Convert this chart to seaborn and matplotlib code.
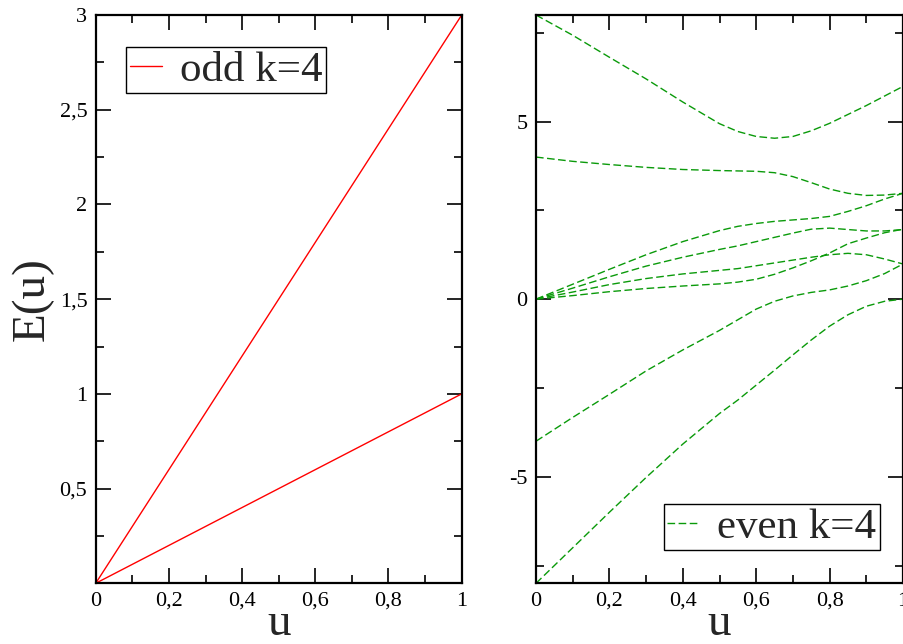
import numpy as np
import pandas as pd
import matplotlib
matplotlib.use("Agg")
import matplotlib.pyplot as plt
from matplotlib.lines import Line2D
from matplotlib.ticker import FixedLocator, FixedFormatter, MultipleLocator
import seaborn as sns

# ---------------- data ----------------
u_odd = [0.0, 1.0]
odd_upper = [0.0, 3.0]
odd_lower = [0.0, 1.0]

u_even = [0.0, 0.1, 0.2, 0.3, 0.4, 0.5, 0.55, 0.6, 0.65, 0.7, 0.75, 0.8, 0.85, 0.9, 0.95, 1.0]
even_A = [8.0, 7.43, 6.81, 6.2, 5.55, 4.94, 4.72, 4.58, 4.53, 4.58, 4.74, 4.95, 5.2, 5.45, 5.72, 5.99]
even_B = [4.0, 3.88, 3.79, 3.71, 3.65, 3.62, 3.61, 3.6, 3.56, 3.45, 3.28, 3.1, 2.98, 2.92, 2.93, 2.98]
even_C = [0.0, 0.42, 0.84, 1.25, 1.62, 1.93, 2.05, 2.13, 2.19, 2.23, 2.27, 2.33, 2.47, 2.63, 2.82, 2.98]
even_D = [0.0, 0.31, 0.63, 0.93, 1.18, 1.40, 1.50, 1.62, 1.74, 1.86, 1.97, 2.0, 1.96, 1.92, 1.92, 1.96]
even_E = [0.0, 0.2, 0.41, 0.58, 0.71, 0.81, 0.86, 0.94, 1.02, 1.10, 1.18, 1.25, 1.29, 1.25, 1.13, 0.99]
even_F = [0.0, 0.1, 0.21, 0.3, 0.37, 0.43, 0.48, 0.56, 0.70, 0.88, 1.08, 1.3, 1.56, 1.72, 1.87, 1.97]
even_G = [-4.0, -3.33, -2.68, -2.02, -1.43, -0.88, -0.58, -0.28, -0.06, 0.09, 0.19, 0.26, 0.37, 0.52, 0.72, 0.99]
even_H = [-8.0, -7.0, -6.0, -5.02, -4.08, -3.22, -2.84, -2.42, -2.0, -1.57, -1.15, -0.76, -0.44, -0.2, -0.06, 0.0]

x_ticks = [0.0, 0.2, 0.4, 0.6, 0.8, 1.0]
x_tick_labels = ["0", "0,2", "0,4", "0,6", "0,8", "1"]
left_y_ticks = [0.5, 1.0, 1.5, 2.0, 2.5, 3.0]
left_y_tick_labels = ["0,5", "1", "1,5", "2", "2,5", "3"]
right_y_ticks = [-5, 0, 5]
right_y_tick_labels = ["-5", "0", "5"]

odd_label = "odd k=4"
even_label = "even k=4"
x_label = "u"
y_label = "E(u)"

# ---------------- frames ----------------
odd_df = pd.concat([
    pd.DataFrame({"u": u_odd, "E": odd_upper, "curve": "upper"}),
    pd.DataFrame({"u": u_odd, "E": odd_lower, "curve": "lower"}),
], ignore_index=True)

even_series = {"A": even_A, "B": even_B, "C": even_C, "D": even_D,
               "E": even_E, "F": even_F, "G": even_G, "H": even_H}
even_df = pd.concat(
    [pd.DataFrame({"u": u_even, "E": v, "curve": k}) for k, v in even_series.items()],
    ignore_index=True)

# ---------------- style ----------------
sns.set_theme(style="white")
plt.rcParams["font.family"] = ["Liberation Serif", "DejaVu Serif"]
plt.rcParams["axes.unicode_minus"] = False

RED = "#ff0000"
GREEN = "#0a9a0a"
DASH = (0, (5.5, 2.5))

fig = plt.figure(figsize=(9.04, 6.44), dpi=100)
W, H = 904, 644
ax1 = fig.add_axes([95.7 / W, (H - 583.3) / H, (461.7 - 95.7) / W, (583.3 - 15) / H])
ax2 = fig.add_axes([536 / W, (H - 583.3) / H, (903 - 536) / W, (583.3 - 15) / H])

sns.lineplot(data=odd_df, x="u", y="E", units="curve", estimator=None,
             color=RED, linewidth=1.0, ax=ax1, legend=False)
sns.lineplot(data=even_df, x="u", y="E", units="curve", estimator=None,
             color=GREEN, linewidth=1.0, linestyle=DASH, ax=ax2, legend=False)

TICK_FS = 16
for ax in (ax1, ax2):
    ax.set_xlim(0, 1)
    for s in ax.spines.values():
        s.set_linewidth(1.6)
        s.set_color("black")
        s.set_visible(True)
    ax.xaxis.set_major_locator(FixedLocator(x_ticks))
    ax.xaxis.set_major_formatter(FixedFormatter(x_tick_labels))
    ax.xaxis.set_minor_locator(MultipleLocator(0.1))
    ax.tick_params(which="both", direction="in", top=True, right=True,
                   bottom=True, left=True, colors="black")
    ax.tick_params(which="major", length=11, width=1.2, labelsize=TICK_FS, pad=6)
    ax.tick_params(which="minor", length=5.5, width=1.2)
    ax.set_xlabel(x_label, fontsize=34, labelpad=-6)
    ax.grid(False)
    ax.set_facecolor("white")

ax1.set_ylim(0, 3)
ax1.yaxis.set_major_locator(FixedLocator(left_y_ticks))
ax1.yaxis.set_major_formatter(FixedFormatter(left_y_tick_labels))
ax1.yaxis.set_minor_locator(MultipleLocator(0.25))
ax1.set_ylabel(y_label, fontsize=34, labelpad=4)

ax2.set_ylim(-8, 8)
ax2.yaxis.set_major_locator(FixedLocator(right_y_ticks))
ax2.yaxis.set_major_formatter(FixedFormatter(right_y_tick_labels))
ax2.yaxis.set_minor_locator(MultipleLocator(2.5))
ax2.set_ylabel("")

leg_kw = dict(fontsize=31, frameon=True, fancybox=False, shadow=False,
              handlelength=0.75, handletextpad=0.42, borderpad=0.08,
              borderaxespad=0.0, framealpha=1.0)
leg1 = ax1.legend(handles=[Line2D([], [], color=RED, linewidth=1.0)],
                  labels=[odd_label], loc="upper left",
                  bbox_to_anchor=(0.084, 0.943), **leg_kw)
leg2 = ax2.legend(handles=[Line2D([], [], color=GREEN, linewidth=1.0, linestyle=DASH)],
                  labels=[even_label], loc="lower right",
                  bbox_to_anchor=(0.937, 0.058), **leg_kw)
for leg in (leg1, leg2):
    fr = leg.get_frame()
    fr.set_edgecolor("black")
    fr.set_linewidth(1.0)
    fr.set_boxstyle("square", pad=0)

fig.savefig("out.png", dpi=100, facecolor="white")
